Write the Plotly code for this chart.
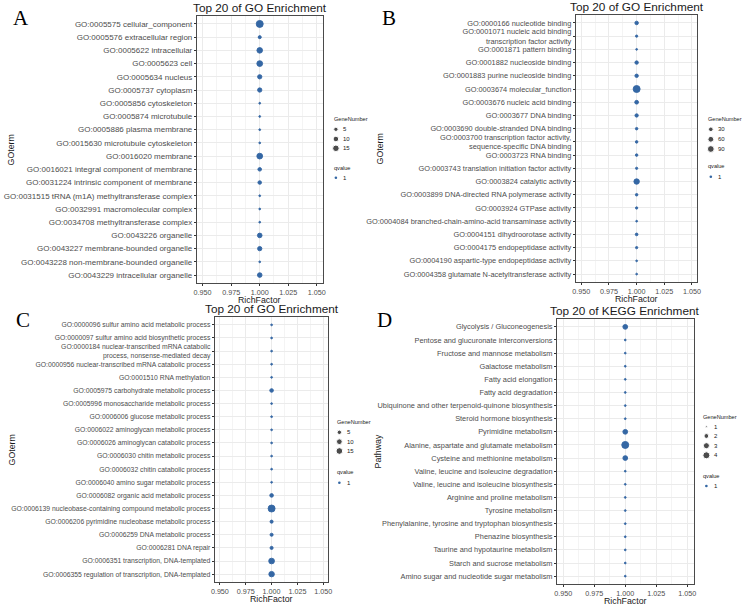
import math
import plotly.graph_objects as go

W, H = 745, 607

# ---------------- data ----------------
A_TERMS = [
    "GO:0005575 cellular_component", "GO:0005576 extracellular region", "GO:0005622 intracellular",
    "GO:0005623 cell", "GO:0005634 nucleus", "GO:0005737 cytoplasm", "GO:0005856 cytoskeleton",
    "GO:0005874 microtubule", "GO:0005886 plasma membrane", "GO:0015630 microtubule cytoskeleton",
    "GO:0016020 membrane", "GO:0016021 integral component of membrane",
    "GO:0031224 intrinsic component of membrane", "GO:0031515 tRNA (m1A) methyltransferase complex",
    "GO:0032991 macromolecular complex", "GO:0034708 methyltransferase complex",
    "GO:0043226 organelle", "GO:0043227 membrane-bounded organelle",
    "GO:0043228 non-membrane-bounded organelle", "GO:0043229 intracellular organelle",
]
A_GENES = [18, 2, 10, 11, 5, 5, 1, 1, 1, 1, 11, 3, 3, 1, 1, 1, 6, 5, 1, 6]
A_RICH = [1.0, 1.0, 1.0, 1.0, 1.0, 1.0, 1.0, 1.0, 1.0, 1.0, 1.0, 1.0, 1.0, 1.0, 1.0, 1.0, 1.0, 1.0, 1.0, 1.0]
A_BREAKS = [5, 10, 15]

B_TERMS = [
    "GO:0000166 nucleotide binding",
    "GO:0001071 nucleic acid binding<br>transcription factor activity",
    "GO:0001871 pattern binding", "GO:0001882 nucleoside binding",
    "GO:0001883 purine nucleoside binding", "GO:0003674 molecular_function",
    "GO:0003676 nucleic acid binding", "GO:0003677 DNA binding",
    "GO:0003690 double-stranded DNA binding",
    "GO:0003700 transcription factor activity,<br>sequence-specific DNA binding",
    "GO:0003723 RNA binding", "GO:0003743 translation initiation factor activity",
    "GO:0003824 catalytic activity", "GO:0003899 DNA-directed RNA polymerase activity",
    "GO:0003924 GTPase activity", "GO:0004084 branched-chain-amino-acid transaminase activity",
    "GO:0004151 dihydroorotase activity", "GO:0004175 endopeptidase activity",
    "GO:0004190 aspartic-type endopeptidase activity", "GO:0004358 glutamate N-acetyltransferase activity",
]
B_GENES = [12, 2, 1, 11, 11, 100, 15, 10, 3, 3, 3, 2, 50, 3, 2, 1, 4, 2, 1, 1]
B_RICH = [1.0, 1.0, 1.0, 1.0, 1.0, 1.0, 1.0, 1.0, 1.0, 1.0, 1.0, 1.0, 1.0, 1.0, 1.0, 1.0, 1.0, 1.0, 1.0, 1.0]
B_BREAKS = [30, 60, 90]

C_TERMS = [
    "GO:0000096 sulfur amino acid metabolic process",
    "GO:0000097 sulfur amino acid biosynthetic process",
    "GO:0000184 nuclear-transcribed mRNA catabolic<br>process, nonsense-mediated decay",
    "GO:0000956 nuclear-transcribed mRNA catabolic process",
    "GO:0001510 RNA methylation", "GO:0005975 carbohydrate metabolic process",
    "GO:0005996 monosaccharide metabolic process", "GO:0006006 glucose metabolic process",
    "GO:0006022 aminoglycan metabolic process", "GO:0006026 aminoglycan catabolic process",
    "GO:0006030 chitin metabolic process", "GO:0006032 chitin catabolic process",
    "GO:0006040 amino sugar metabolic process", "GO:0006082 organic acid metabolic process",
    "GO:0006139 nucleobase-containing compound metabolic process",
    "GO:0006206 pyrimidine nucleobase metabolic process", "GO:0006259 DNA metabolic process",
    "GO:0006281 DNA repair", "GO:0006351 transcription, DNA-templated",
    "GO:0006355 regulation of transcription, DNA-templated",
]
C_GENES = [1, 1, 1, 1, 1, 3, 1, 1, 1, 1, 1, 1, 1, 3, 17, 2, 2, 2, 10, 9]
C_RICH = [1.0, 1.0, 1.0, 1.0, 1.0, 1.0, 1.0, 1.0, 1.0, 1.0, 1.0, 1.0, 1.0, 1.0, 1.0, 1.0, 1.0, 1.0, 1.0, 1.0]
C_BREAKS = [5, 10, 15]

D_TERMS = [
    "Glycolysis / Gluconeogenesis", "Pentose and glucuronate interconversions",
    "Fructose and mannose metabolism", "Galactose metabolism", "Fatty acid elongation",
    "Fatty acid degradation", "Ubiquinone and other terpenoid-quinone biosynthesis",
    "Steroid hormone biosynthesis", "Pyrimidine metabolism",
    "Alanine, aspartate and glutamate metabolism", "Cysteine and methionine metabolism",
    "Valine, leucine and isoleucine degradation", "Valine, leucine and isoleucine biosynthesis",
    "Arginine and proline metabolism", "Tyrosine metabolism",
    "Phenylalanine, tyrosine and tryptophan biosynthesis", "Phenazine biosynthesis",
    "Taurine and hypotaurine metabolism", "Starch and sucrose metabolism",
    "Amino sugar and nucleotide sugar metabolism",
]
D_GENES = [2, 1, 1, 1, 1, 1, 1, 1, 2, 4, 2, 1, 1, 1, 1, 1, 1, 1, 1, 1]
D_RICH = [1.0, 1.0, 1.0, 1.0, 1.0, 1.0, 1.0, 1.0, 1.0, 1.0, 1.0, 1.0, 1.0, 1.0, 1.0, 1.0, 1.0, 1.0, 1.0, 1.0]
D_BREAKS = [1, 2, 3, 4]

X_TICKS = [0.95, 0.975, 1.0, 1.025, 1.05]
X_MINOR = [0.9625, 0.9875, 1.0125, 1.0375]
QVALUE_LABEL = "1"

# ---------------- styling / layout ----------------
DOT = "#3467A4"
FONT = "Liberation Sans, Arial, sans-serif"
TICKC = "#4D4D4D"

panels = [
    dict(letter="A", title="Top 20 of GO Enrichment", ytitle="GOterm", terms=A_TERMS, genes=A_GENES,
         rich=A_RICH, breaks=A_BREAKS, box=(195, 322, 16, 283), fs=8.0,
         letter_xy=(17, 18), ytitle_x=7,
         leg=dict(tx=332, ty=118.5, dx=335.5, lx=341, ys=[129.3, 139.0, 148.3], qy=168.3, q1=177.7)),
    dict(letter="B", title="Top 20 of GO Enrichment", ytitle="GOterm", terms=B_TERMS, genes=B_GENES,
         rich=B_RICH, breaks=B_BREAKS, box=(578, 701, 15, 282), fs=7.4,
         letter_xy=(389, 18), ytitle_x=380,
         leg=dict(tx=710, ty=119.3, dx=714.5, lx=720, ys=[129.3, 139.3, 149.0], qy=166.5, q1=176.7)),
    dict(letter="C", title="Top 20 of GO Enrichment", ytitle="GOterm", terms=C_TERMS, genes=C_GENES,
         rich=C_RICH, breaks=C_BREAKS, box=(213, 328, 317, 582), fs=6.8,
         letter_xy=(19, 320), ytitle_x=8,
         leg=dict(tx=335, ty=421.7, dx=339, lx=345, ys=[432.3, 441.7, 451.0], qy=471.7, q1=482.7)),
    dict(letter="D", title="Top 20 of KEGG Enrichment", ytitle="Pathway", terms=D_TERMS, genes=D_GENES,
         rich=D_RICH, breaks=D_BREAKS, box=(559, 697, 319, 584), fs=7.4,
         letter_xy=(385, 320), ytitle_x=378,
         leg=dict(tx=705, ty=417.3, dx=710, lx=716, ys=[426.7, 436.0, 445.7, 455.3], qy=476.0, q1=486.0)),
]


def dot_size(v, vmin, vmax):
    if vmax == vmin:
        return 3.0
    return 1.8 + 5.2 * math.sqrt((v - vmin) / (vmax - vmin))


def px(x):
    return x / W


def py(y):
    return 1 - y / H


fig = go.Figure()
annotations = []
layout = dict(
    width=W, height=H, margin=dict(l=0, r=0, t=0, b=0),
    paper_bgcolor="white", plot_bgcolor="rgba(0,0,0,0)", showlegend=False,
    font=dict(family=FONT, color="#1A1A1A"),
)

for i, p in enumerate(panels):
    n = i + 1
    xk = "xaxis" if n == 1 else f"xaxis{n}"
    yk = "yaxis" if n == 1 else f"yaxis{n}"
    xr = "x" if n == 1 else f"x{n}"
    yr = "y" if n == 1 else f"y{n}"
    l, r, t, b = p["box"]
    vmin, vmax = min(p["genes"]), max(p["genes"])
    sizes = [dot_size(v, vmin, vmax) for v in p["genes"]]

    fig.add_trace(go.Scatter(
        x=p["rich"], y=p["terms"], mode="markers", xaxis=xr, yaxis=yr,
        marker=dict(size=sizes, color=DOT, line=dict(width=0.9, color=DOT), opacity=1),
        cliponaxis=False, hoverinfo="x+y",
    ))

    layout[xk] = dict(
        domain=[px(l), px(r)], anchor=yr, range=[0.945, 1.055],
        tickmode="array", tickvals=X_TICKS, ticktext=[f"{v:.3f}" for v in X_TICKS],
        tickfont=dict(size=7.2, color=TICKC, family=FONT),
        ticks="outside", ticklen=2, tickwidth=0.6, tickcolor="#333333",
        showgrid=True, gridcolor="#EBEBEB", gridwidth=0.8,
        minor=dict(tickvals=X_MINOR, showgrid=True, gridcolor="#F4F4F4", gridwidth=0.5, ticks=""),
        showline=True, mirror=True, linecolor="#4A4A4A", linewidth=1,
        zeroline=False, fixedrange=True,
    )
    layout[yk] = dict(
        domain=[py(b), py(t)], anchor=xr, type="category",
        categoryorder="array", categoryarray=p["terms"],
        range=[len(p["terms"]) - 0.4, -0.6],
        tickmode="array", tickvals=p["terms"], ticktext=p["terms"],
        tickfont=dict(size=p["fs"], color=TICKC, family=FONT),
        ticks="outside", ticklen=2, tickwidth=0.6, tickcolor="#333333",
        showgrid=True, gridcolor="#EBEBEB", gridwidth=0.8,
        showline=True, mirror=True, linecolor="#4A4A4A", linewidth=1,
        zeroline=False, fixedrange=True, automargin=False,
    )

    cx = (l + r) / 2
    annotations.append(dict(text=p["title"], x=px(cx), y=py(t + 1), xref="paper", yref="paper",
                            xanchor="center", yanchor="bottom", showarrow=False,
                            font=dict(size=11.8, color="#1A1A1A", family=FONT)))
    annotations.append(dict(text="RichFactor", x=px(cx), y=py(b + 17.3), xref="paper", yref="paper",
                            xanchor="center", yanchor="middle", showarrow=False,
                            font=dict(size=8.8, color="#1A1A1A", family=FONT)))
    annotations.append(dict(text=p["ytitle"], x=px(p["ytitle_x"]), y=py((t + b) / 2), xref="paper",
                            yref="paper", xanchor="center", yanchor="middle", textangle=-90,
                            showarrow=False, font=dict(size=8.8, color="#1A1A1A", family=FONT)))
    lx, ly = p["letter_xy"]
    annotations.append(dict(text=p["letter"], x=px(lx), y=py(ly), xref="paper", yref="paper",
                            xanchor="center", yanchor="middle", showarrow=False,
                            font=dict(size=21, color="black", family="Liberation Serif, Times New Roman, serif")))

    # legend (size + qvalue) drawn on an overlay pixel axis
    lg = p["leg"]
    leg_sizes = [dot_size(v, vmin, vmax) for v in p["breaks"]]
    fig.add_trace(go.Scatter(
        x=[lg["dx"]] * len(p["breaks"]), y=lg["ys"], mode="markers", xaxis="x5", yaxis="y5",
        marker=dict(size=leg_sizes, color="black"), cliponaxis=False, hoverinfo="skip",
    ))
    fig.add_trace(go.Scatter(
        x=[lg["dx"]], y=[lg["q1"]], mode="markers", xaxis="x5", yaxis="y5",
        marker=dict(size=2.6, color=DOT), cliponaxis=False, hoverinfo="skip",
    ))
    annotations.append(dict(text="GeneNumber", x=px(lg["tx"]), y=py(lg["ty"]), xref="paper", yref="paper",
                            xanchor="left", yanchor="middle", showarrow=False,
                            font=dict(size=5.6, color="#1A1A1A", family=FONT)))
    for bv, yy in zip(p["breaks"], lg["ys"]):
        annotations.append(dict(text=str(bv), x=px(lg["lx"]), y=py(yy), xref="paper", yref="paper",
                                xanchor="left", yanchor="middle", showarrow=False,
                                font=dict(size=6, color="#1A1A1A", family=FONT)))
    annotations.append(dict(text="qvalue", x=px(lg["tx"]), y=py(lg["qy"]), xref="paper", yref="paper",
                            xanchor="left", yanchor="middle", showarrow=False,
                            font=dict(size=5.6, color="#1A1A1A", family=FONT)))
    annotations.append(dict(text=QVALUE_LABEL, x=px(lg["lx"]), y=py(lg["q1"]), xref="paper", yref="paper",
                            xanchor="left", yanchor="middle", showarrow=False,
                            font=dict(size=6, color="#1A1A1A", family=FONT)))

layout["xaxis5"] = dict(domain=[0, 1], range=[0, W], anchor="y5", visible=False, fixedrange=True)
layout["yaxis5"] = dict(domain=[0, 1], range=[H, 0], anchor="x5", visible=False, fixedrange=True)
layout["annotations"] = annotations

fig.update_layout(**layout)
fig.write_html(
    "out.html",
    config={"displayModeBar": False},
    post_script="document.body.style.margin='0';document.body.style.overflow='hidden';",
)
